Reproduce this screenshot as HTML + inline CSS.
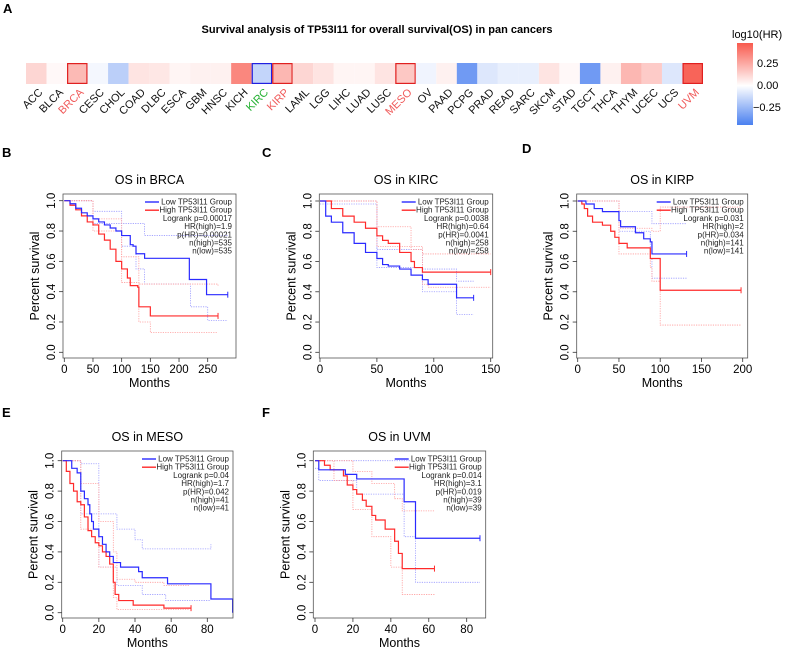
<!DOCTYPE html>
<html><head><meta charset="utf-8">
<style>
html,body{margin:0;padding:0;background:#fff;}
svg{display:block;font-family:"Liberation Sans",Arial,sans-serif;}
</style></head>
<body>
<svg id="fig" width="789" height="649" viewBox="0 0 789 649" xmlns="http://www.w3.org/2000/svg">
<defs>
<linearGradient id="hrgrad" x1="0" y1="0" x2="0" y2="1">
<stop offset="0" stop-color="#f85a4e"/>
<stop offset="0.52" stop-color="#ffffff"/>
<stop offset="1" stop-color="#4a80f0"/>
</linearGradient>
</defs>
<text x="3" y="13" font-size="13" font-weight="bold">A</text>
<text x="377" y="33" font-size="11" font-weight="bold" text-anchor="middle">Survival analysis of TP53I11 for overall survival(OS) in pan cancers</text>
<g id="heat"></g>
<g>
<text x="732" y="38" font-size="11">log10(HR)</text>
<rect x="737" y="43" width="16" height="82" fill="url(#hrgrad)"/>
<text x="757" y="67" font-size="11">0.25</text>
<text x="757" y="89" font-size="11">0.00</text>
<text x="753" y="111" font-size="11">−0.25</text>
</g>
<g id="plots"></g>
</svg>
<script>
// ---------- heatmap data ----------
const cancers = ["ACC","BLCA","BRCA","CESC","CHOL","COAD","DLBC","ESCA","GBM","HNSC","KICH","KIRC","KIRP","LAML","LGG","LIHC","LUAD","LUSC","MESO","OV","PAAD","PCPG","PRAD","READ","SARC","SKCM","STAD","TGCT","THCA","THYM","UCEC","UCS","UVM"];
const log10HR = [0.12,0.02,0.20,-0.03,-0.18,0.08,0.07,0.03,0.04,0.04,0.35,-0.16,0.21,0.12,0.08,0.03,0.03,0.08,0.16,-0.04,0.04,-0.38,-0.09,-0.06,-0.06,0.08,0.02,-0.38,0.04,0.21,0.15,-0.09,0.45];
const sigUp = ["BRCA","KIRP","MESO","UVM"];
const sigDown = ["KIRC"];

const NS = "http://www.w3.org/2000/svg";
function mk(tag, attrs, parent){const e=document.createElementNS(NS,tag);for(const k in attrs)e.setAttribute(k,attrs[k]);if(parent)parent.appendChild(e);return e;}
function hrColor(v){
  const t=Math.max(-1,Math.min(1,v/0.48));
  let r,g,b;
  if(t>=0){r=255+(248-255)*t;g=255+(90-255)*t;b=255+(78-255)*t;}
  else{const u=-t;r=255+(74-255)*u;g=255+(128-255)*u;b=255+(240-255)*u;}
  return `rgb(${Math.round(r)},${Math.round(g)},${Math.round(b)})`;
}
const heat=document.getElementById('heat');
const hx0=26,hx1=703,hy0=63,hh=21,cw=(hx1-hx0)/cancers.length;
cancers.forEach((c,i)=>{
  const x=hx0+i*cw;
  const r=mk('rect',{x:x,y:hy0,width:cw,height:hh,fill:hrColor(log10HR[i])},heat);
  
  
  if(sigUp.includes(c)||sigDown.includes(c)){
    const b=mk('rect',{x:x+0.6,y:hy0+0.6,width:cw-1.2,height:hh-1.2,fill:'none',stroke:sigUp.includes(c)?'#e02020':'#2020e0','stroke-width':1.2},heat);
    
    
  }
  const cx=x+cw/2+7, cy=93;
  const t=mk('text',{x:cx,y:cy,'font-size':11,'text-anchor':'end',transform:`rotate(-45 ${cx} ${cy})`,fill:sigUp.includes(c)?'#f05a5a':(sigDown.includes(c)?'#22b030':'#111')},heat);
  t.textContent=c;
  
  
});

// ---------- KM data (month, survival) ----------
const brcaLow=[[0,1],[10,0.98],[20,0.95],[30,0.92],[40,0.9],[50,0.88],[60,0.86],[70,0.84],[80,0.82],[90,0.8],[100,0.77],[115,0.71],[120,0.7],[125,0.65],[140,0.62],[218,0.48],[248,0.38],[285,0.38]];
const brcaHigh=[[0,1],[10,0.97],[20,0.94],[30,0.9],[40,0.86],[50,0.84],[60,0.78],[70,0.74],[80,0.68],[90,0.6],[100,0.55],[110,0.49],[115,0.44],[128,0.43],[130,0.3],[150,0.24],[268,0.24]];
const brcaLowUp=[[0,1],[50,0.93],[100,0.85],[140,0.77],[285,0.77]];
const brcaLowLo=[[0,1],[50,0.85],[100,0.7],[125,0.55],[140,0.45],[220,0.3],[250,0.21],[285,0.21]];
const brcaHighUp=[[0,1],[50,0.88],[100,0.63],[130,0.45],[268,0.44]];
const brcaHighLo=[[0,1],[50,0.8],[100,0.46],[130,0.2],[150,0.13],[268,0.13]];

const kircLow=[[0,1],[5,0.9],[10,0.86],[20,0.79],[30,0.72],[40,0.66],[50,0.62],[55,0.58],[60,0.57],[70,0.55],[80,0.51],[90,0.48],[95,0.45],[120,0.36],[135,0.36]];
const kircHigh=[[0,1],[10,0.95],[20,0.9],[30,0.86],[40,0.82],[50,0.77],[55,0.74],[60,0.72],[70,0.66],[80,0.6],[83,0.56],[90,0.53],[150,0.53]];
const kircLowUp=[[0,1],[50,0.68],[90,0.55],[120,0.47],[135,0.47]];
const kircLowLo=[[0,0.98],[50,0.56],[90,0.4],[120,0.25],[135,0.25]];
const kircHighUp=[[0,1],[50,0.83],[80,0.68],[90,0.65],[150,0.65]];
const kircHighLo=[[0,1],[50,0.7],[90,0.45],[95,0.43],[150,0.43]];

const kirpLow=[[0,1],[10,0.98],[20,0.95],[30,0.93],[45,0.93],[50,0.87],[52,0.83],[70,0.79],[80,0.75],[88,0.73],[90,0.65],[132,0.65]];
const kirpHigh=[[0,1],[5,0.98],[8,0.95],[12,0.9],[18,0.86],[30,0.84],[40,0.8],[45,0.76],[50,0.72],[60,0.69],[88,0.62],[100,0.41],[198,0.41]];
const kirpLowUp=[[0,1],[50,0.93],[90,0.85],[132,0.85]];
const kirpLowLo=[[0,1],[50,0.8],[88,0.62],[90,0.49],[132,0.49]];
const kirpHighUp=[[0,1],[50,0.82],[90,0.8],[100,0.96],[198,0.96]];
const kirpHighLo=[[0,1],[50,0.65],[88,0.56],[90,0.47],[100,0.18],[198,0.18]];

const mesoLow=[[0,1],[5,0.95],[8,0.92],[10,0.8],[12,0.75],[14,0.71],[15,0.65],[16,0.6],[17,0.55],[20,0.5],[22,0.45],[24,0.4],[26,0.37],[28,0.33],[32,0.3],[42,0.27],[44,0.23],[58,0.19],[82,0.09],[94,0]];
const mesoHigh=[[0,1],[2,0.93],[4,0.85],[6,0.8],[8,0.73],[10,0.71],[12,0.63],[14,0.54],[16,0.5],[18,0.46],[20,0.44],[22,0.4],[24,0.37],[26,0.32],[28,0.2],[29,0.12],[31,0.08],[39,0.05],[56,0.03],[71,0.03]];
const mesoLowUp=[[0,1],[10,0.98],[20,0.65],[30,0.55],[40,0.48],[44,0.42],[82,0.45]];
const mesoLowLo=[[0,1],[10,0.65],[20,0.3],[30,0.18],[44,0.12],[57,0.08],[82,0.08]];
const mesoHighUp=[[0,1],[10,0.85],[20,0.6],[28,0.4],[30,0.22],[40,0.2],[56,0.18],[70,0.18]];
const mesoHighLo=[[0,1],[10,0.55],[20,0.3],[28,0.1],[30,0.02],[70,0.02]];

const uvmLow=[[0,1],[2,0.94],[16,0.91],[22,0.88],[47,0.73],[53,0.49],[87,0.49]];
const uvmHigh=[[0,1],[5,0.97],[8,0.94],[15,0.9],[17,0.84],[20,0.81],[22,0.78],[25,0.74],[27,0.7],[30,0.64],[32,0.61],[37,0.55],[42,0.47],[44,0.39],[46,0.29],[63,0.29]];
const uvmLowUp=[[0,1],[50,1]];
const uvmLowLo=[[0,0.95],[2,0.87],[22,0.78],[47,0.5],[53,0.2],[87,0.2]];
const uvmHighUp=[[0,1],[20,0.93],[30,0.85],[42,0.75],[46,0.67],[63,0.67]];
const uvmHighLo=[[0,1],[10,0.87],[20,0.68],[30,0.5],[40,0.3],[46,0.12],[63,0.12]];

const stats = {
 brca:["Logrank p=0.00017","HR(high)=1.9","p(HR)=0.00021","n(high)=535","n(low)=535"],
 kirc:["Logrank p=0.0038","HR(high)=0.64","p(HR)=0.0041","n(high)=258","n(low)=258"],
 kirp:["Logrank p=0.031","HR(high)=2","p(HR)=0.034","n(high)=141","n(low)=141"],
 meso:["Logrank p=0.04","HR(high)=1.7","p(HR)=0.042","n(high)=41","n(low)=41"],
 uvm:["Logrank p=0.014","HR(high)=3.1","p(HR)=0.019","n(high)=39","n(low)=39"]
};

const panels=[
 {id:'brca',letter:'B',lx:2,ly:157,title:'OS in BRCA',box:[63,194,236,358],x0:64.3,xmax:250,xpx:207.7,xt:[0,50,100,150,200,250],y1:200.7,y0:352.3,low:brcaLow,high:brcaHigh,lu:brcaLowUp,ll:brcaLowLo,hu:brcaHighUp,hl:brcaHighLo},
 {id:'kirc',letter:'C',lx:262,ly:157,title:'OS in KIRC',box:[319.3,194,492.7,358],x0:320,xmax:150,xpx:490.7,xt:[0,50,100,150],y1:201,y0:352.3,low:kircLow,high:kircHigh,lu:kircLowUp,ll:kircLowLo,hu:kircHighUp,hl:kircHighLo},
 {id:'kirp',letter:'D',lx:522,ly:153,title:'OS in KIRP',box:[576.7,194,747.7,358],x0:577.7,xmax:200,xpx:742.7,xt:[0,50,100,150,200],y1:201,y0:352.3,low:kirpLow,high:kirpHigh,lu:kirpLowUp,ll:kirpLowLo,hu:kirpHighUp,hl:kirpHighLo},
 {id:'meso',letter:'E',lx:2,ly:417,title:'OS in MESO',box:[61.7,451,233,618],x0:62.7,xmax:80,xpx:207.3,xt:[0,20,40,60,80],y1:460.7,y0:612.7,low:mesoLow,high:mesoHigh,lu:mesoLowUp,ll:mesoLowLo,hu:mesoHighUp,hl:mesoHighLo},
 {id:'uvm',letter:'F',lx:262,ly:417,title:'OS in UVM',box:[313.3,451,485.7,618],x0:315,xmax:80,xpx:466.7,xt:[0,20,40,60,80],y1:460.7,y0:612.7,low:uvmLow,high:uvmHigh,lu:uvmLowUp,ll:uvmLowLo,hu:uvmHighUp,hl:uvmHighLo}
];

const plots=document.getElementById('plots');
function stepPath(pts,X,Y){
  let d=`M${X(pts[0][0])},${Y(pts[0][1])}`;
  for(let i=1;i<pts.length;i++){d+=` H${X(pts[i][0])} V${Y(pts[i][1])}`;}
  return d;
}
panels.forEach(p=>{
  const g=mk('g',{},plots);
  
  
  const X=t=>p.x0+(t/p.xmax)*(p.xpx-p.x0);
  const Y=s=>p.y0-(s)*(p.y0-p.y1);
  const [bx0,by0,bx1,by1]=p.box;
  const cxm=(bx0+bx1)/2;
  const L=mk('text',{x:p.lx,y:p.ly,'font-size':13,'font-weight':'bold'},g);L.textContent=p.letter;
  
  
  const T=mk('text',{x:cxm,y:by0-10,'font-size':12.5,'text-anchor':'middle'},g);T.textContent=p.title;
  
  
  // CI
  [[p.lu,'#9a9aff'],[p.ll,'#9a9aff'],[p.hu,'#ff9a9a'],[p.hl,'#ff9a9a']].forEach(([arr,col])=>{
    const e=mk('path',{d:stepPath(arr,X,Y),fill:'none',stroke:col,'stroke-width':0.8,'stroke-dasharray':'1.2 1.2'},g);
    
    
  });
  // main curves
  [[p.high,'#ff2a2a','high-group-curve'],[p.low,'#2a2aff','low-group-curve']].forEach(([arr,col,nm])=>{
    const e=mk('path',{d:stepPath(arr,X,Y),fill:'none',stroke:col,'stroke-width':1.2},g);
    
    
    // censor mark at end
    const last=arr[arr.length-1];
    if(last[1]>0){
      const c=mk('path',{d:`M${X(last[0])},${Y(last[1])-3} v6`,stroke:col,'stroke-width':1},g);
      
      
    }
  });
  // box
  const b=mk('rect',{x:bx0,y:by0,width:bx1-bx0,height:by1-by0,fill:'none',stroke:'#555','stroke-width':0.8},g);
  
  
  // y ticks
  [0,0.2,0.4,0.6,0.8,1.0].forEach(v=>{
    const y=Y(v);
    mk('line',{x1:bx0,x2:bx0-4,y1:y,y2:y,stroke:'#333','stroke-width':0.8},g);
    const t=mk('text',{x:bx0-8,y:y,'font-size':11.5,'text-anchor':'middle',transform:`rotate(-90 ${bx0-8} ${y})`},g);
    t.textContent=v.toFixed(1);
    
    
  });
  const yl=mk('text',{x:bx0-24,y:(by0+by1)/2,'font-size':12.5,'text-anchor':'middle',transform:`rotate(-90 ${bx0-24} ${(by0+by1)/2})`},g);
  yl.textContent='Percent survival';
  
  
  // x ticks
  p.xt.forEach(v=>{
    const x=X(v);
    mk('line',{x1:x,x2:x,y1:by1,y2:by1+4,stroke:'#333','stroke-width':0.8},g);
    const t=mk('text',{x:x,y:by1+15,'font-size':11.5,'text-anchor':'middle'},g);
    t.textContent=v;
    
    
  });
  const xl=mk('text',{x:cxm,y:by1+29,'font-size':12.5,'text-anchor':'middle'},g);
  xl.textContent='Months';
  
  
  // legend
  const lg=mk('g',{},g);
  
  
  const rx=bx1-4, ly0=by0+10.5, sp=8.2;
  const rows=['Low TP53I11 Group','High TP53I11 Group'].concat(stats[p.id]);
  rows.forEach((s,i)=>{
    const t=mk('text',{x:rx,y:ly0+i*sp,'font-size':8,'text-anchor':'end',fill:'#222'},lg);
    t.textContent=s;
  });
  mk('line',{x1:rx-87,x2:rx-73,y1:ly0-2.5,y2:ly0-2.5,stroke:'#2a2aff','stroke-width':1.4},lg);
  mk('line',{x1:rx-87,x2:rx-73,y1:ly0+sp-2.5,y2:ly0+sp-2.5,stroke:'#ff2a2a','stroke-width':1.4},lg);
});
</script>
</body></html>
